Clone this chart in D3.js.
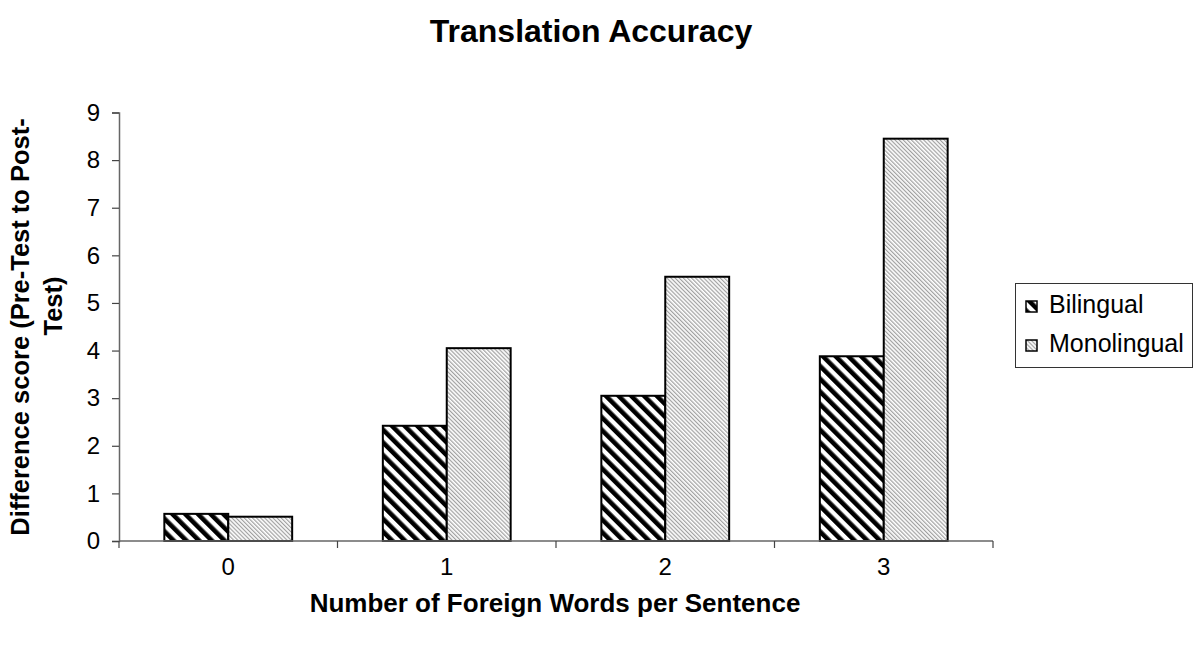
<!DOCTYPE html>
<html>
<head>
<meta charset="utf-8">
<script src="https://cdn.jsdelivr.net/npm/d3@7"></script>
<style>
  body { margin: 0; background: #fff; }
  text { font-family: Arial, "Liberation Sans", sans-serif; }
</style>
</head>
<body>
<div id="chart"></div>
<script>
// data
var categories = ["0", "1", "2", "3"];
var seriesNames = ["Bilingual", "Monolingual"];
var bilingual = [0.57, 2.42, 3.05, 3.88];
var monolingual = [0.51, 4.05, 5.55, 8.45];
var yTicks = [0, 1, 2, 3, 4, 5, 6, 7, 8, 9];

var width = 1198, height = 646;
var margin = {left: 119, right: 205, top: 112.5, bottom: 105};

var svg = d3.select("#chart")
  .append("svg")
    .attr("width", width)
    .attr("height", height);

// hatch patterns
var defs = svg.append("defs");
var pb = defs.append("pattern")
    .attr("id", "hatchBi")
    .attr("patternUnits", "userSpaceOnUse")
    .attr("width", 9).attr("height", 9)
    .attr("patternTransform", "rotate(-45)");
pb.append("rect").attr("width", 9).attr("height", 9).attr("fill", "#fff");
pb.append("rect").attr("width", 4.6).attr("height", 9).attr("fill", "#000");

var pm = defs.append("pattern")
    .attr("id", "hatchMono")
    .attr("patternUnits", "userSpaceOnUse")
    .attr("width", 2.9).attr("height", 2.9)
    .attr("patternTransform", "rotate(-45)");
pm.append("rect").attr("width", 2.9).attr("height", 2.9).attr("fill", "#fff");
pm.append("rect").attr("width", 1.2).attr("height", 2.9).attr("fill", "#a0a0a0");

var fills = ["url(#hatchBi)", "url(#hatchMono)"];

var x = d3.scaleBand()
    .domain(categories)
    .range([margin.left, width - margin.right])
    .paddingInner(0.415)
    .paddingOuter(0.2075);

var x1 = d3.scaleBand()
    .domain(seriesNames)
    .range([0, x.bandwidth()]);

var y = d3.scaleLinear()
    .domain([0, 9])
    .range([height - margin.bottom, margin.top]);

// bars
var rows = categories.map(function(c, i) {
  return {cat: c, values: [bilingual[i], monolingual[i]]};
});

svg.append("g")
  .selectAll("g")
  .data(rows)
  .enter()
  .append("g")
    .attr("transform", function(d) { return "translate(" + x(d.cat) + ",0)"; })
  .selectAll("rect")
  .data(function(d) { return d.values; })
  .enter()
  .append("rect")
    .attr("x", function(d, i) { return x1(seriesNames[i]); })
    .attr("y", function(d) { return y(d); })
    .attr("width", x1.bandwidth())
    .attr("height", function(d) { return y(0) - y(d); })
    .attr("fill", function(d, i) { return fills[i]; })
    .attr("stroke", "#000")
    .attr("stroke-width", 2);

// y axis
var yAxis = svg.append("g")
    .attr("transform", "translate(" + margin.left + ",0)")
    .call(d3.axisLeft(y).tickValues(yTicks).tickSize(7).tickPadding(12));
yAxis.select(".domain").attr("stroke", "#666").attr("stroke-width", 1.5);
yAxis.selectAll(".tick line").attr("stroke", "#444").attr("stroke-width", 1.2);
yAxis.selectAll("text").style("font-size", "24px").attr("fill", "#000");

// x axis: ticks at category boundaries
var xAxis = svg.append("g")
    .attr("transform", "translate(0," + y(0) + ")");
xAxis.append("line")
    .attr("x1", margin.left).attr("x2", width - margin.right)
    .attr("stroke", "#666").attr("stroke-width", 1.5);
var step = x.step();
var bounds = d3.range(categories.length + 1).map(function(i) { return margin.left + i * step; });
xAxis.selectAll(".bt")
  .data(bounds)
  .enter()
  .append("line")
    .attr("x1", function(d) { return d; }).attr("x2", function(d) { return d; })
    .attr("y1", 0).attr("y2", 7)
    .attr("stroke", "#444").attr("stroke-width", 1.2);
xAxis.selectAll(".lbl")
  .data(categories)
  .enter()
  .append("text")
    .attr("x", function(d) { return x(d) + x.bandwidth() / 2; })
    .attr("y", 34)
    .attr("text-anchor", "middle")
    .style("font-size", "24px")
    .text(function(d) { return d; });

// titles
svg.append("text")
    .attr("x", 591).attr("y", 42)
    .attr("text-anchor", "middle")
    .style("font-size", "32px").style("font-weight", "bold")
    .text("Translation Accuracy");

svg.append("text")
    .attr("x", 555).attr("y", 612)
    .attr("text-anchor", "middle")
    .style("font-size", "26px").style("font-weight", "bold")
    .text("Number of Foreign Words per Sentence");

svg.append("text")
    .attr("transform", "translate(29,327) rotate(-90)")
    .attr("text-anchor", "middle")
    .style("font-size", "25.5px").style("font-weight", "bold")
    .text("Difference score (Pre-Test to Post-");
svg.append("text")
    .attr("transform", "translate(62,306) rotate(-90)")
    .attr("text-anchor", "middle")
    .style("font-size", "25.5px").style("font-weight", "bold")
    .text("Test)");

// legend
var legend = svg.append("g");
legend.append("rect")
    .attr("x", 1015.5).attr("y", 283.5)
    .attr("width", 177).attr("height", 84)
    .attr("fill", "#fff").attr("stroke", "#333").attr("stroke-width", 1);
var li = legend.selectAll(".li")
  .data(seriesNames)
  .enter()
  .append("g")
    .attr("transform", function(d, i) { return "translate(1026," + (301 + i * 39) + ")"; });
li.append("rect")
    .attr("width", 11).attr("height", 11)
    .attr("fill", function(d, i) { return fills[i]; })
    .attr("stroke", "#000").attr("stroke-width", 1.5);
li.append("text")
    .attr("x", 23).attr("y", 12)
    .style("font-size", "25px")
    .text(function(d) { return d; });
</script>
</body>
</html>
